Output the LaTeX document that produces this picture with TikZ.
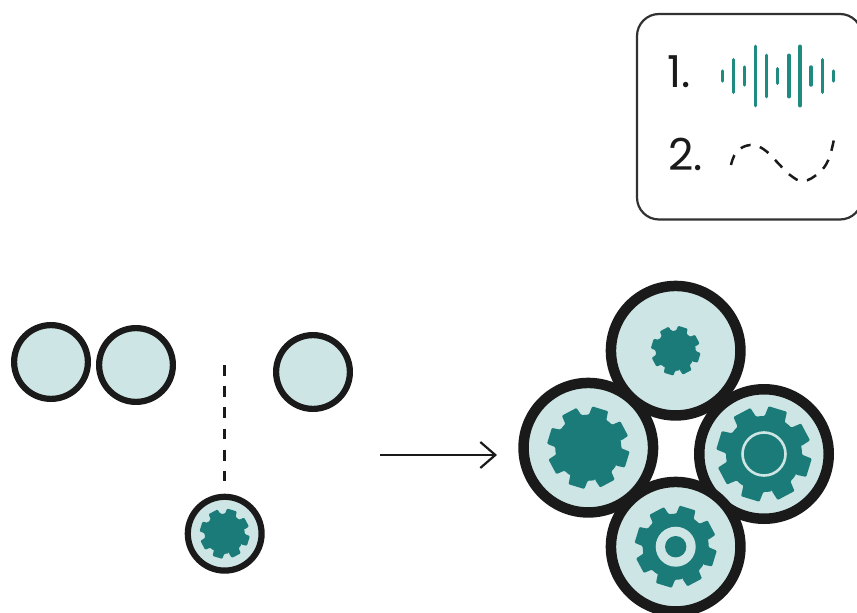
\documentclass[tikz,border=0pt]{standalone}
\usepackage{fontspec}
\setmainfont{Poppins}
\usetikzlibrary{arrows.meta}
\definecolor{paleteal}{HTML}{CDE5E4}
\definecolor{deepteal}{HTML}{1B7B78}
\definecolor{barteal}{HTML}{1F8A80}
\definecolor{inkblack}{HTML}{1A1A1A}
\newcommand{\cog}[3]{%
  \fill[deepteal,shift={#1},rounded corners=1pt]
    ({73-16}:#3)
    \foreach \a in {73,118,163,208,253,298,343,388}{
      -- ({\a-16}:#3) -- ({\a-11.5}:#2) -- ({\a+11.5}:#2) -- ({\a+16}:#3)
      arc[start angle={\a+16},end angle={\a+29},radius=#3]
    } -- cycle;
}
\tikzset{
  bigdisc/.style={circle,draw=inkblack,fill=paleteal,line width=10.5pt,minimum size=129.5pt,inner sep=0pt},
  smalldisc/.style={circle,draw=inkblack,fill=paleteal,line width=6.2pt,minimum size=73.8pt,inner sep=0pt},
  numeral/.style={anchor=base west,inner sep=0pt,text=inkblack,font=\fontsize{44pt}{44pt}\selectfont},
  bar/.style={barteal,line width=3.5pt,line cap=round},
  legendbox/.style={draw=inkblack!90,line width=2.2pt,rounded corners=22pt},
  dashline/.style={inkblack,line width=2.5pt,dash pattern=on 10.7pt off 10.5pt},
  wave/.style={inkblack,line width=2.5pt,dash pattern=on 10.5pt off 9.5pt}
}
\begin{document}
\begin{tikzpicture}[x=1pt,y=1pt]
\useasboundingbox (0,-613) rectangle (857,0);
% legend
\draw[legendbox] (637,-14) rectangle (862,-219.5);
\node[numeral] (one) at (667,-87.7) {1.};
\node[numeral] (two) at (668,-170) {2.};
\foreach \x/\h in {722.3/5,733.7/16.3,744.7/9,755.7/29.7,766.7/20.7,777.7/7.3,789/20.7,800/29.7,811/9,822.3/16.3,833.3/5}{
  \draw[bar] (\x,-76+\h) -- (\x,-76-\h);
}
\draw[wave] plot[smooth,tension=0.7] coordinates {(731,-165) (736.7,-151.7) (750,-145) (763.3,-149) (776.7,-161.7) (790,-175) (803.3,-181) (818.3,-173.3) (828.3,-160) (834,-139)};
% left group
\node[smalldisc] (c1) at (51,-362) {};
\node[smalldisc] (c2) at (136,-365) {};
\node[smalldisc] (c3) at (313,-372) {};
\node[smalldisc] (c4) at (224.7,-533.7) {};
\cog{(c4)}{25.3}{20}
\coordinate (dashtop) at (224.7,-365);
\coordinate (dashend) at (224.7,-481);
\draw[dashline] (dashtop) -- (dashend);
% arrow
\coordinate (arrstart) at (380,-455);
\coordinate (arrend) at (497,-455);
\draw[inkblack,line width=2.2pt,-{Straight Barb[length=15pt,width=26pt,line width=2.2pt]}] (arrstart) -- (arrend);
% right group
\node[bigdisc] (left) at (588.3,-447.7) {};
\node[bigdisc] (right) at (764,-454) {};
\node[bigdisc] (bottom) at (675.7,-546.7) {};
\node[bigdisc] (top) at (675.7,-350.7) {};
\cog{(top)}{25}{20}
\cog{(left)}{41.5}{33}
\cog{(right)}{48}{38}
\cog{(bottom)}{41.3}{33}
\draw[draw=paleteal,fill=deepteal,line width=2.6pt] (right) circle[radius=21.5];
\fill[paleteal] (bottom) circle[radius=20];
\fill[deepteal] (bottom) circle[radius=10.7];
\end{tikzpicture}
\end{document}
